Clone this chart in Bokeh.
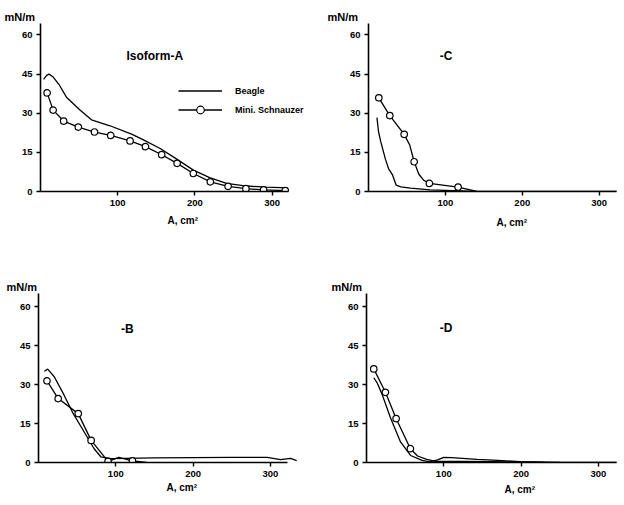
from bokeh.plotting import figure
from bokeh.layouts import row, column
from bokeh.models import Label, Legend, LegendItem, FixedTicker, Title
from bokeh.embed import file_html
from bokeh.resources import INLINE

# ---------------- data ----------------
y_ticks = [0, 15, 30, 45, 60]
x_ticks = [100, 200, 300]

# Isoform-A
A_beagle_x = [4, 8, 11, 16, 24, 34, 50, 66, 90, 118, 134, 155, 176, 198, 219, 241, 267, 292, 320]
A_beagle_y = [43, 44.5, 45, 44, 41, 36, 31.5, 27.5, 25.2, 22, 19.7, 16.5, 12.5, 8.2, 5.3, 3.1, 2.1, 1.7, 1.4]
A_schn_x = [8.6, 16.4, 30, 49, 70, 91, 116, 136, 157, 177, 198, 220, 243, 266, 289, 317]
A_schn_y = [37.8, 31.2, 27.0, 24.7, 22.8, 21.5, 19.4, 17.2, 14.1, 10.8, 6.9, 3.7, 2.0, 1.1, 0.65, 0.35]
A_mark_x = A_schn_x
A_mark_y = A_schn_y

# -C
C_beagle_x = [11, 13, 16, 20, 22, 26, 31, 36, 42, 55, 80, 110, 140, 323]
C_beagle_y = [28.3, 23, 19, 14.6, 12.4, 8.8, 6.5, 2.4, 1.8, 1.3, 0.6, 0.3, 0, 0]
C_schn_x = [13.4, 27.7, 46.4, 53.6, 59.4, 65.3, 71.8, 79.2, 116.5, 141]
C_schn_y = [35.9, 29.1, 21.9, 17.8, 11.4, 6.7, 4.3, 3.1, 1.7, 0]
C_mark_x = [13.4, 27.7, 46.4, 59.4, 79.2, 116.5]
C_mark_y = [35.9, 29.1, 21.9, 11.4, 3.1, 1.7]

# -B
B_beagle_x = [7.5, 11.9, 20.4, 33.3, 44, 57, 72, 80.6, 93.5, 150, 250, 296, 313, 326, 334]
B_beagle_y = [35.1, 35.9, 33, 25.8, 19.3, 12.8, 5.3, 2.2, 1.5, 1.8, 2.0, 2.0, 1.1, 1.6, 0.7]
B_schn_x = [11, 25.5, 51.4, 68.1, 90, 104, 121.5, 140]
B_schn_y = [31.4, 24.6, 18.8, 8.5, 0.4, 2.0, 0.6, 0]
B_mark_x = [11, 25.5, 51.4, 68.1, 90, 121.5]
B_mark_y = [31.4, 24.6, 18.8, 8.5, 0.4, 0.6]

# -D
D_beagle_x = [9.4, 14, 20.2, 31, 44, 57, 72, 82, 92, 100, 110, 143, 170, 199, 230, 260, 324]
D_beagle_y = [32.6, 30.5, 26.2, 17.2, 7.9, 2.7, 0.8, 0.2, 1.0, 2.0, 1.9, 1.2, 0.8, 0.3, 0.1, 0, 0]
D_schn_x = [9.4, 24.5, 38.3, 56.8, 66, 78, 89, 120, 160, 200, 250]
D_schn_y = [36, 27, 16.9, 5.3, 2.5, 1.2, 0.4, 0.4, 0.3, 0.2, 0]
D_mark_x = [9.4, 24.5, 38.3, 56.8]
D_mark_y = [36, 27, 16.9, 5.3]

FONT = "Liberation Sans"


def make_panel(width, height, border_left, border_top, border_bottom,
               xmax, xaxis_end, ymax, bx, by, sx, sy, mx, my, title, title_xy,
               xlabel_offset, xlabel_standoff, ylabel_offset, legend=False):
    p = figure(width=width, height=height, x_range=(0, xmax), y_range=(0, ymax),
               output_backend="svg", toolbar_location=None, title=None,
               min_border_left=border_left, min_border_right=2,
               min_border_top=border_top, min_border_bottom=border_bottom,
               x_axis_location="below", y_axis_location="left")
    p.outline_line_color = None
    p.grid.visible = False
    p.background_fill_color = "white"
    p.border_fill_color = "white"
    for ax in (p.xaxis[0], p.yaxis[0]):
        ax.axis_line_width = 1.6
        ax.axis_line_color = "black"
        ax.major_tick_line_width = 1.4
        ax.major_tick_line_color = "black"
        ax.major_tick_out = 4
        ax.major_tick_in = 0
        ax.minor_tick_line_color = None
        ax.major_label_text_font = FONT
        ax.major_label_text_font_style = "bold"
        ax.major_label_text_font_size = "9.5px"
        ax.major_label_text_color = "black"
        ax.major_label_standoff = 4
    p.xaxis[0].ticker = FixedTicker(ticks=x_ticks)
    p.yaxis[0].ticker = FixedTicker(ticks=y_ticks)
    p.xaxis[0].bounds = (0, xaxis_end)

    rb = p.line(bx, by, line_color="black", line_width=1.3)
    rs = p.line(sx, sy, line_color="black", line_width=1.3)
    rm = p.scatter(mx, my, marker="circle", size=6.5, fill_color="white",
                   line_color="black", line_width=1.2)

    p.add_layout(Label(x=title_xy[0], y=title_xy[1], text=title, text_font=FONT,
                       text_font_style="bold", text_font_size="12px",
                       text_color="black",
                       text_align="center", text_baseline="middle"))
    # y unit label above the axis
    p.add_layout(Title(text="mN/m", align="left", offset=ylabel_offset, standoff=2,
                       text_font=FONT, text_font_style="bold", text_font_size="11px",
                       text_color="black"), "above")
    # x axis label below the axis
    p.add_layout(Title(text="A, cm²", align="left", offset=xlabel_offset,
                       standoff=xlabel_standoff,
                       text_font=FONT, text_font_style="bold", text_font_size="10px",
                       text_color="black"), "below")
    if legend:
        lg = Legend(items=[LegendItem(label="Beagle", renderers=[rb]),
                           LegendItem(label="Mini. Schnauzer", renderers=[rs, rm])],
                    location=(138, 72), orientation="vertical")
        lg.border_line_color = None
        lg.background_fill_alpha = 0
        lg.padding = 0
        lg.margin = 0
        lg.spacing = 0
        lg.glyph_width = 44
        lg.glyph_height = 19
        lg.label_height = 19
        lg.label_standoff = 13
        lg.label_text_font = FONT
        lg.label_text_font_style = "bold"
        lg.label_text_font_size = "9px"
        lg.label_text_color = "black"
        p.add_layout(lg)
    return p


pA = make_panel(312, 252, 40, 23, 61, 349.7, 321, 64.4,
                A_beagle_x, A_beagle_y, A_schn_x, A_schn_y, A_mark_x, A_mark_y,
                "Isoform-A", (148, 52.1), 127, 9, -36, legend=True)
pC = make_panel(312, 252, 56, 23, 61, 330.3, 323, 64.4,
                C_beagle_x, C_beagle_y, C_schn_x, C_schn_y, C_mark_x, C_mark_y,
                "-C", (101, 51.8), 128, 12, -41)
pB = make_panel(312, 253, 38, 41, 43, 351.9, 322, 65.0,
                B_beagle_x, B_beagle_y, B_schn_x, B_schn_y, B_mark_x, B_mark_y,
                "-B", (115, 51.5), 128, 0, -32)
pD = make_panel(312, 253, 54, 41, 43, 331.2, 324, 65.0,
                D_beagle_x, D_beagle_y, D_schn_x, D_schn_y, D_mark_x, D_mark_y,
                "-D", (103, 51.8), 138, 5, -35)

layout = column(row(pA, pC, spacing=0), row(pB, pD, spacing=0), spacing=0)

open("out.html", "w").write(file_html(layout, INLINE))
